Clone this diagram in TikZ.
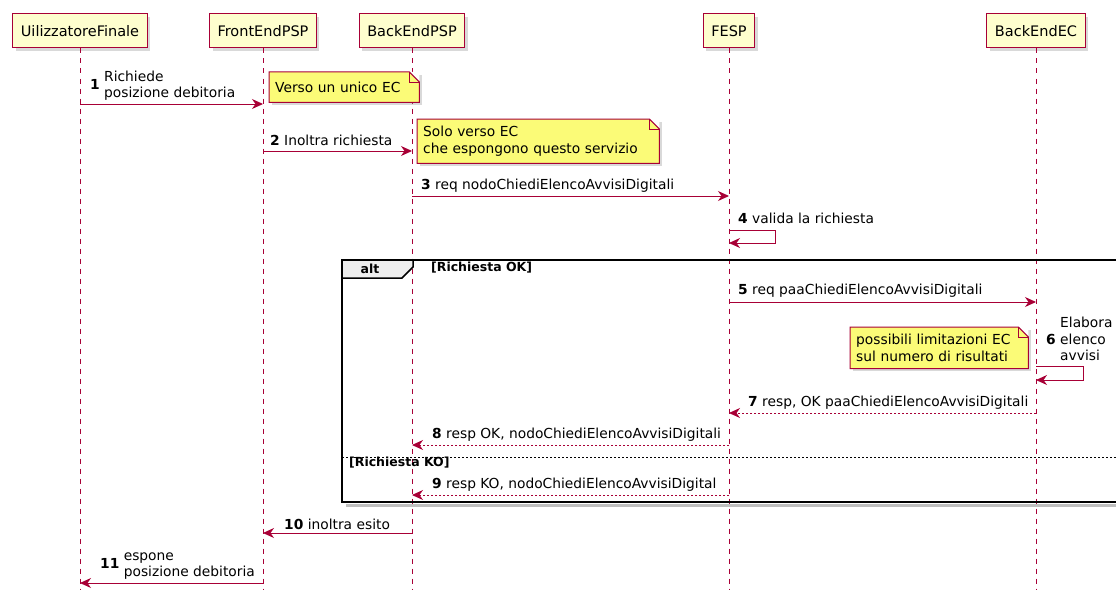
\documentclass[tikz,border=0pt]{standalone}
\usepackage{fontspec}
\setmainfont{DejaVu Sans}
\usetikzlibrary{arrows.meta, shadows}
\definecolor{umlred}{HTML}{A80036}
\definecolor{partfill}{HTML}{FEFECE}
\definecolor{notefill}{HTML}{FBFB77}
\definecolor{tabfill}{HTML}{EEEEEE}

\begin{document}
\begin{tikzpicture}[x=1pt,y=-1pt,actor/.style={draw=umlred,fill=partfill,line width=1pt,minimum height=34pt,inner xsep=8pt,font=\fontsize{14.5}{17}\selectfont,drop shadow={shadow xshift=3pt,shadow yshift=-3pt,opacity=.3}},lifeline/.style={draw=umlred,line width=1pt,dash pattern=on 5pt off 5pt},msg/.style={draw=umlred,line width=1pt,-{Stealth[length=11pt,width=10pt,inset=3.5pt]}},reply/.style={msg,dash pattern=on 2pt off 2pt},lbl/.style={anchor=west,inner sep=0pt,font=\fontsize{13.8}{16.5}\selectfont},note/.style={fill=notefill,anchor=north west,align=left,inner xsep=6pt,inner ysep=7pt,font=\fontsize{13.8}{16.5}\selectfont,drop shadow={shadow xshift=3pt,shadow yshift=-3pt,opacity=.3}},notebd/.style={draw=umlred,line width=1pt},frame/.style={draw=black,line width=1.5pt},guard/.style={anchor=west,inner sep=0pt,font=\fontsize{12.5}{15}\selectfont\bfseries}]
\useasboundingbox (0,0) rectangle (1116,594);
% participants and lifelines
\node[actor] (uf) at (80,31){UilizzatoreFinale};
\node[actor] (fe) at (263,31){FrontEndPSP};
\node[actor] (be) at (412,31){BackEndPSP};
\node[actor] (fesp) at (729,31){FESP};
\node[actor] (bec) at (1036,31){BackEndEC};
\coordinate (bottom) at (0,590);
\foreach \p in {uf,fe,be,fesp,bec} \draw[lifeline] (\p.south) -- (\p |- bottom);
% notes
\node[note,text width=138pt,minimum height=30pt] (n1) at (269,72){Verso un unico EC};
\node[note,text width=230pt] (n2) at (417,119){Solo verso EC\\che espongono questo servizio};
\node[note,text width=166pt] (n3) at (850,327){possibili limitazioni EC\\sul numero di risultati};
\foreach \n in {n1,n2,n3}{\fill[white] ([xshift=-10pt]\n.north east) -- (\n.north east) -- ([yshift=-10pt]\n.north east) -- cycle; \draw[notebd] (\n.north west) -- ([xshift=-10pt]\n.north east) -- ([yshift=-10pt]\n.north east) -- (\n.south east) -- (\n.south west) -- cycle; \draw[notebd] ([xshift=-10pt]\n.north east) |- ([yshift=-10pt]\n.north east);}
% alt frame
\coordinate (altnw) at (342,260);
\coordinate (altse) at (1125,502);
\draw[black,opacity=.25,line width=3pt] ([xshift=4pt,yshift=-3pt]altnw |- altse) -- ([yshift=-3pt]altse);
\draw[frame] (altnw) rectangle (altse);
\draw[frame,fill=tabfill] (altnw) -- ++(71,0) -- ++(0,7) -- ++(-11,11) -- ++(-60,0) -- cycle;
\node[font=\fontsize{12.5}{15}\selectfont\bfseries,inner sep=0pt] (alt) at (370,269){alt};
\node[guard] (okg) at (431,268){[Richiesta OK]};
\coordinate (sep) at (0,457);
\draw[black,line width=1pt,dash pattern=on 2pt off 2pt] (altnw |- sep) -- (altse |- sep);
\node[guard] (kog) at (349,463){[Richiesta KO]};
% messages
\coordinate (r1) at (0,104); \coordinate (r2) at (0,151); \coordinate (r3) at (0,196); \coordinate (r4) at (0,230); \coordinate (r4b) at (0,243); \coordinate (r5) at (0,302); \coordinate (r6) at (0,366); \coordinate (r6b) at (0,380); \coordinate (r7) at (0,413); \coordinate (r8) at (0,445); \coordinate (r9) at (0,495); \coordinate (r10) at (0,533); \coordinate (r11) at (0,583);
\draw[msg] (uf |- r1) -- (fe |- r1); \draw[msg] (fe |- r2) -- (be |- r2); \draw[msg] (be |- r3) -- (fesp |- r3); \draw[msg] (fesp |- r4) -- ++(46,0) |- (fesp |- r4b); \draw[msg] (fesp |- r5) -- (bec |- r5); \draw[msg] (bec |- r6) -- ++(47,0) |- (bec |- r6b); \draw[reply] (bec |- r7) -- (fesp |- r7); \draw[reply] (fesp |- r8) -- (be |- r8); \draw[reply] (fesp |- r9) -- (be |- r9); \draw[msg] (be |- r10) -- (fe |- r10); \draw[msg] (fe |- r11) -- (uf |- r11);
\node[lbl] (l1) at (90,86){\textbf{1} \begin{tabular}{@{}l@{}}Richiede\\posizione debitoria\end{tabular}};
\node[lbl] (l2) at (270,140){\textbf{2} Inoltra richiesta};
\node[lbl] (l3) at (421,186){\textbf{3} req nodoChiediElencoAvvisiDigitali};
\node[lbl] (l4) at (738,218){\textbf{4} valida la richiesta};
\node[lbl] (l5) at (738,291){\textbf{5} req paaChiediElencoAvvisiDigitali};
\node[lbl] (l6) at (1046,341){\textbf{6} \begin{tabular}{@{}l@{}}Elabora\\elenco\\avvisi\end{tabular}};
\node[lbl] (l7) at (748,403){\textbf{7} resp, OK paaChiediElencoAvvisiDigitali};
\node[lbl] (l8) at (432,435){\textbf{8} resp OK, nodoChiediElencoAvvisiDigitali};
\node[lbl] (l9) at (432,485){\textbf{9} resp KO, nodoChiediElencoAvvisiDigital};
\node[lbl] (l10) at (284,524){\textbf{10} inoltra esito};
\node[lbl] (l11) at (100,565){\textbf{11} \begin{tabular}{@{}l@{}}espone\\posizione debitoria\end{tabular}};
\end{tikzpicture}
\end{document}
